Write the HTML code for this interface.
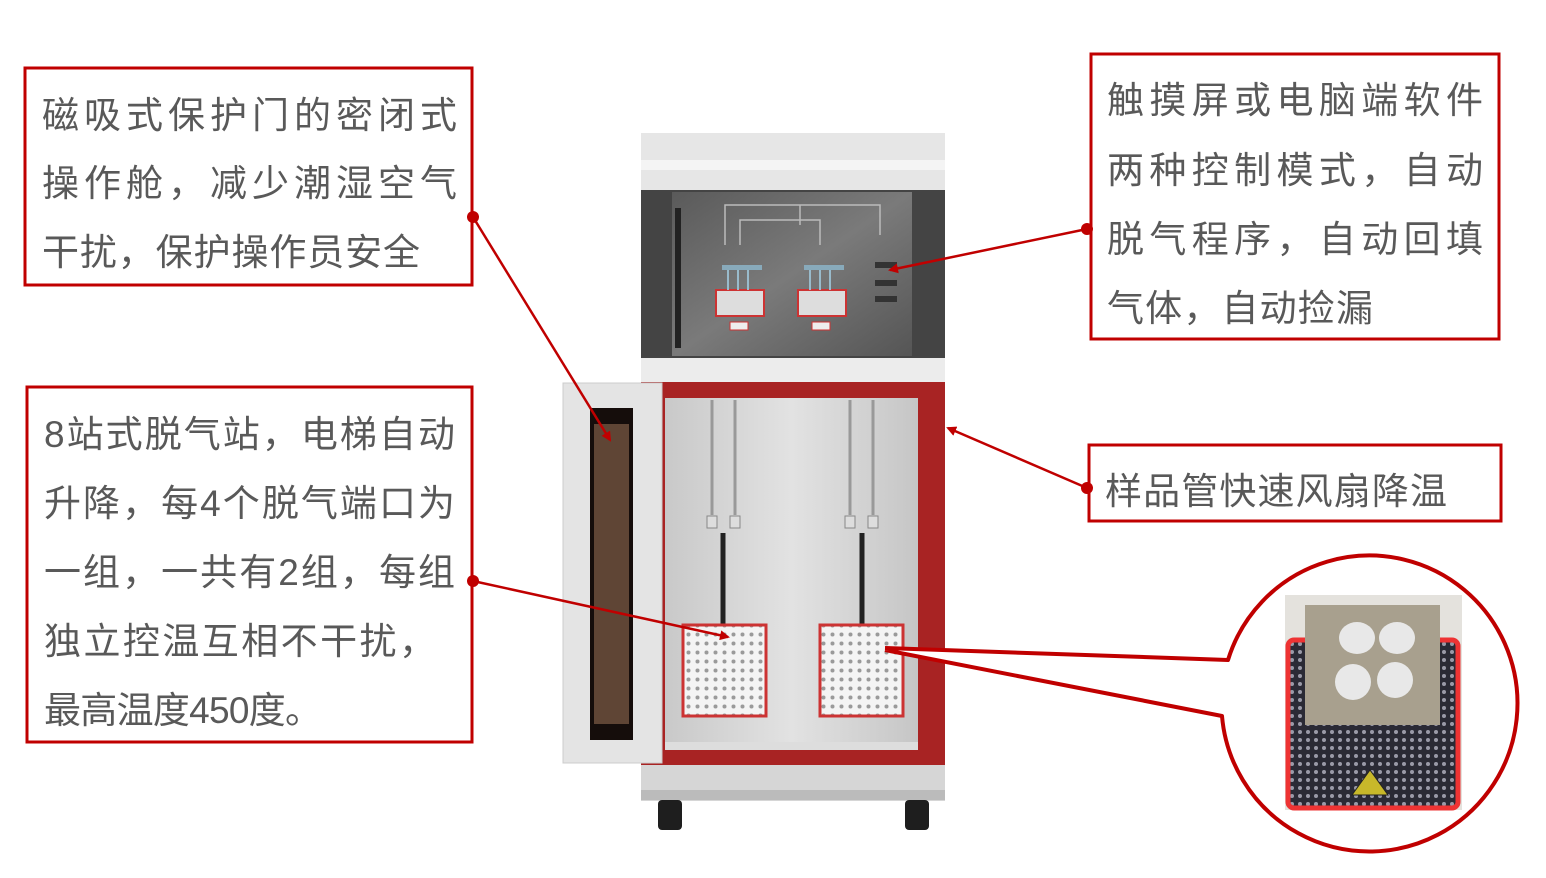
<!DOCTYPE html>
<html><head><meta charset="utf-8"><style>
html,body{margin:0;padding:0;background:#fff;}
svg{display:block;}
text{font-family:"Liberation Sans","Noto Sans CJK SC",sans-serif;font-size:37px;fill:#595959;}
</style></head><body>
<svg width="1546" height="878" viewBox="0 0 1546 878" xmlns="http://www.w3.org/2000/svg">
<defs>
<pattern id="dots" width="9" height="9" patternUnits="userSpaceOnUse"><rect width="9" height="9" fill="#f4f4f4"/><circle cx="4.5" cy="4.5" r="2" fill="#9a9a9a"/></pattern>
<pattern id="mesh" width="8" height="8" patternUnits="userSpaceOnUse"><rect width="8" height="8" fill="#2a2a35"/><circle cx="4" cy="4" r="2" fill="#9a9aa8"/></pattern>
<linearGradient id="inner" x1="0" x2="1"><stop offset="0" stop-color="#c9c9c9"/><stop offset="0.5" stop-color="#e2e2e2"/><stop offset="1" stop-color="#c6c6c6"/></linearGradient>
<linearGradient id="scr" x1="0" y1="0" x2="1" y2="1"><stop offset="0" stop-color="#5a5a5a"/><stop offset="0.5" stop-color="#7a7a7a"/><stop offset="1" stop-color="#555"/></linearGradient>
<marker id="ar" markerWidth="10" markerHeight="10" refX="8" refY="5" orient="auto" markerUnits="userSpaceOnUse"><path d="M0,0 L10,5 L0,10 z" fill="#c00000"/></marker>
</defs>

<rect x="641" y="133" width="304" height="58" fill="#e6e6e6"/>
<rect x="641" y="160" width="304" height="10" fill="#f4f4f4"/>
<rect x="641" y="190" width="304" height="168" fill="#444"/>
<rect x="672" y="192" width="240" height="164" fill="url(#scr)"/>
<rect x="675" y="208" width="6" height="140" fill="#222"/>
<path d="M725,245 V205 H880 V235 M740,245 V220 H820 V245 M800,205 V225" stroke="#bbb" fill="none" stroke-width="1.5"/>
<rect x="716" y="290" width="48" height="26" fill="#ddd" stroke="#c33" stroke-width="2"/>
<rect x="798" y="290" width="48" height="26" fill="#ddd" stroke="#c33" stroke-width="2"/>
<rect x="722" y="265" width="40" height="5" fill="#8ab"/>
<rect x="804" y="265" width="40" height="5" fill="#8ab"/>
<g stroke="#9bc" stroke-width="2"><line x1="728" y1="270" x2="728" y2="290"/><line x1="738" y1="270" x2="738" y2="290"/><line x1="748" y1="270" x2="748" y2="290"/><line x1="810" y1="270" x2="810" y2="290"/><line x1="820" y1="270" x2="820" y2="290"/><line x1="830" y1="270" x2="830" y2="290"/></g>
<rect x="730" y="322" width="18" height="8" fill="#eee" stroke="#c33"/>
<rect x="812" y="322" width="18" height="8" fill="#eee" stroke="#c33"/>
<g fill="#333"><rect x="875" y="262" width="22" height="6"/><rect x="875" y="280" width="22" height="6"/><rect x="875" y="296" width="22" height="6"/></g>
<rect x="641" y="358" width="304" height="26" fill="#ececec"/>
<rect x="641" y="382" width="304" height="383" fill="#a82323"/>
<rect x="665" y="398" width="253" height="352" fill="url(#inner)"/>
<rect x="665" y="742" width="253" height="8" fill="#ddd"/>
<g stroke="#999" stroke-width="3">
<line x1="712" y1="400" x2="712" y2="515"/><line x1="735" y1="400" x2="735" y2="515"/>
<line x1="850" y1="400" x2="850" y2="515"/><line x1="873" y1="400" x2="873" y2="515"/>
</g>
<g fill="#ddd" stroke="#888"><rect x="707" y="516" width="10" height="12"/><rect x="730" y="516" width="10" height="12"/><rect x="845" y="516" width="10" height="12"/><rect x="868" y="516" width="10" height="12"/></g>
<line x1="723" y1="533" x2="723" y2="625" stroke="#222" stroke-width="5"/>
<line x1="862" y1="533" x2="862" y2="625" stroke="#222" stroke-width="5"/>
<rect x="683" y="625" width="83" height="91" fill="url(#dots)" stroke="#c33" stroke-width="3"/>
<rect x="820" y="625" width="83" height="91" fill="url(#dots)" stroke="#c33" stroke-width="3"/>
<rect x="641" y="765" width="304" height="36" fill="#d6d6d6"/>
<rect x="641" y="790" width="304" height="10" fill="#bbb"/>
<rect x="658" y="800" width="24" height="30" rx="4" fill="#1e1e1e"/>
<rect x="905" y="800" width="24" height="30" rx="4" fill="#1e1e1e"/>
<rect x="563" y="383" width="99" height="380" fill="#e4e4e4" stroke="#ccc"/>
<rect x="590" y="408" width="43" height="332" fill="#150d0b"/>
<rect x="594" y="424" width="35" height="300" fill="#5f4535"/>

<g stroke="#c00000" stroke-width="2.5" fill="none">
<line x1="473" y1="217" x2="610" y2="440" marker-end="url(#ar)"/>
<line x1="473" y1="581" x2="728" y2="637" marker-end="url(#ar)"/>
<line x1="1087" y1="229" x2="890" y2="270" marker-end="url(#ar)"/>
<line x1="1087" y1="488" x2="948" y2="428" marker-end="url(#ar)"/>
</g>
<g fill="#c00000"><circle cx="473" cy="217" r="6"/><circle cx="473" cy="581" r="6"/><circle cx="1087" cy="229" r="6"/><circle cx="1087" cy="488" r="6"/></g>

<path d="M885,648 L1228,660 A148,148 0 1 1 1222,716 L885,650" fill="#fff" stroke="#c00000" stroke-width="4" stroke-linejoin="round"/>
<rect x="1285" y="595" width="177" height="215" fill="#e4e2dd"/>
<rect x="1288" y="640" width="170" height="168" rx="6" fill="url(#mesh)" stroke="#e33" stroke-width="5"/>
<rect x="1305" y="605" width="135" height="120" fill="#a8a08e"/>
<ellipse cx="1357" cy="638" rx="18" ry="16" fill="#e8e8e8"/><ellipse cx="1397" cy="638" rx="18" ry="16" fill="#e8e8e8"/>
<ellipse cx="1353" cy="682" rx="18" ry="18" fill="#e8e8e8"/><ellipse cx="1395" cy="680" rx="18" ry="18" fill="#e8e8e8"/>
<path d="M1370,770 L1388,795 L1352,795 z" fill="#c8b82a" stroke="#222"/>

<g fill="none" stroke="#c00000" stroke-width="3">
<rect x="25" y="68" width="447" height="217"/>
<rect x="27" y="387" width="445" height="355"/>
<rect x="1091" y="54" width="408" height="285"/>
<rect x="1089" y="445" width="412" height="76"/>
</g>
<text x="42" y="128" textLength="415">磁吸式保护门的密闭式</text>
<text x="42" y="196" textLength="415">操作舱，减少潮湿空气</text>
<text x="42" y="265" textLength="378">干扰，保护操作员安全</text>

<text x="44" y="447" textLength="411">8站式脱气站，电梯自动</text>
<text x="44" y="516" textLength="411">升降，每4个脱气端口为</text>
<text x="44" y="585" textLength="411">一组，一共有2组，每组</text>
<text x="44" y="654" textLength="392">独立控温互相不干扰，</text>
<text x="44" y="723" textLength="278">最高温度450度。</text>

<text x="1107" y="113" textLength="376">触摸屏或电脑端软件</text>
<text x="1107" y="183" textLength="376">两种控制模式，自动</text>
<text x="1107" y="252" textLength="376">脱气程序，自动回填</text>
<text x="1107" y="321" textLength="266">气体，自动捡漏</text>

<text x="1105" y="504" textLength="342">样品管快速风扇降温</text>
</svg>
</body></html>
